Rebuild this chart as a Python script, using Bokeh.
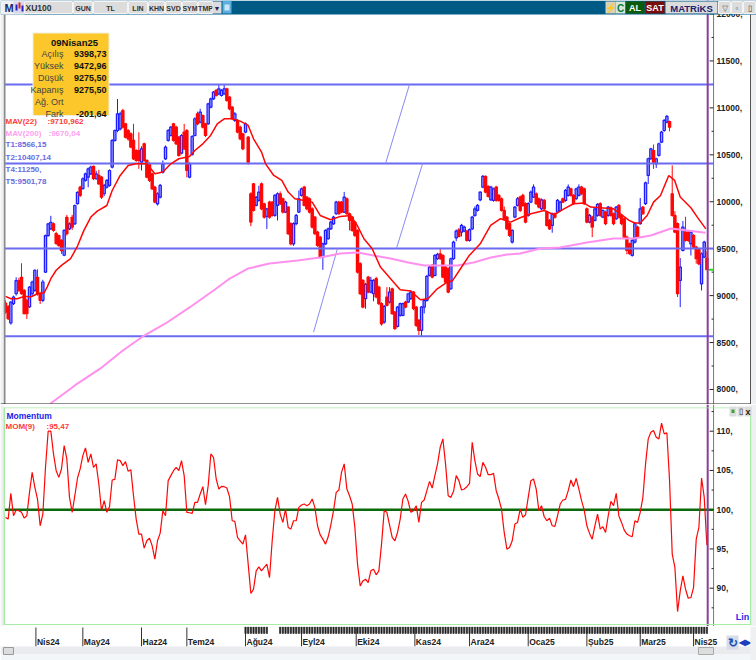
from bokeh.core.properties import value
from bokeh.embed import file_html
from bokeh.layouts import column
from bokeh.models import BoxAnnotation, ColumnDataSource, Label, Range1d
from bokeh.plotting import figure
from bokeh.resources import INLINE

# ---------------------------------------------------------------- data
opens = [8920,8880,8708,8915,9020,9160,9195,9055,8950,8880,
 9020,9055,9195,9020,8950,9250,9640,9710,9765,9660,
 9640,9590,9430,9835,9710,9835,9765,9980,10155,10140,
 10227,10262,10298,10376,10245,10280,10262,10085,10155,10174,
 10369,10653,10759,10777,10972,10830,10759,10724,10653,10546,
 10546,10422,10617,10440,10404,10298,10155,9978,10049,10315,
 10457,10653,10706,10830,10795,10688,10518,10742,10759,10262,
 10504,10706,10937,10848,10919,10830,10830,11008,11097,11186,
 11150,11132,11150,11203,11114,11008,10866,10866,10795,10724,
 10742,10688,10085,10191,9961,10014,10191,9978,9844,9996,
 9996,9854,9961,10085,10032,9890,9943,9766,9552,9766,
 9890,10067,10156,10049,10032,9925,9836,9677,9623,9410,
 9552,9606,9712,9765,9872,9996,9996,9890,10032,9872,
 9837,9783,9695,9340,9162,8967,9197,9038,9020,9180,
 9091,8914,8718,8985,8931,9073,8825,8672,8789,8789,
 8931,8931,8967,9038,8878,8736,8630,8878,8949,9215,
 9322,9215,9393,9446,9428,9304,9286,9073,9393,9616,
 9700,9677,9687,9687,9588,9712,9854,9908,10021,10156,
 10270,10163,10021,10014,10156,10067,10032,9908,9837,9766,
 9570,9837,9961,10050,10067,9979,9854,9996,10050,10085,
 10032,9925,10014,9890,9801,9748,9872,9890,9907,10032,
 10014,10067,10138,10067,10032,10067,10156,10138,9925,9783,
 9836,9801,9854,9979,9836,9890,9854,9936,9872,9819,
 9961,9854,9819,9623,9552,9428,9570,9730,9766,9943,
 9979,10280,10458,10546,10404,10493,10635,10759,10848,10855,
 10085,9854,9766,9162,9481,9677,9677,9552,9641,9517,
 9499,9126,9411,9398.73]
highs = [8950,8900,8940,9000,9195,9190,9345,9070,8970,9100,
 9160,9280,9280,9040,9170,9650,9775,9850,9780,9680,
 9650,9600,9705,9860,9780,9860,9970,10110,10170,10260,
 10310,10365,10385,10385,10330,10340,10275,10190,10240,10345,
 10665,10770,11095,10960,10990,10840,10775,10740,10830,10560,
 10740,10590,10630,10450,10420,10310,10170,10100,10190,10440,
 10600,10775,10805,10840,10810,10700,10720,10830,10775,10420,
 10710,10900,10960,10990,10930,10840,11055,11110,11180,11200,
 11250,11200,11250,11215,11125,11020,10955,10880,10810,10735,
 10845,10700,10100,10200,10060,10170,10205,9990,9935,10010,
 10005,10080,10100,10110,10045,10010,9955,9780,9780,9870,
 10120,10150,10170,10060,10045,9940,9850,9690,9635,9565,
 9705,9725,9795,9850,10010,10010,10008,10105,10045,9885,
 9850,9795,9705,9355,9175,9135,9210,9200,9175,9200,
 9105,8930,8900,9090,9090,9085,8838,8890,8925,8925,
 8945,9030,9060,9050,8890,8750,8890,8960,9220,9320,
 9335,9440,9455,9500,9440,9316,9300,9405,9585,9705,
 9720,9765,9745,9700,9715,9850,9950,9975,10110,10285,
 10280,10175,10170,10150,10170,10080,10045,9950,9850,9780,
 9705,9955,10050,10065,10085,9995,9995,10120,10185,10100,
 10045,10035,10030,9905,9815,9885,9885,10030,10010,10045,
 10135,10185,10150,10080,10150,10185,10170,10150,9940,9870,
 9850,9940,9985,9995,9920,9905,9955,9950,9885,9955,
 9975,9870,9835,9640,9565,9600,9780,9745,10040,9955,
 10215,10470,10575,10610,10470,10630,10755,10880,10925,10865,
 10387,9900,9780,9400,9795,9840,9690,9690,9655,9530,
 9510,9460,9585,9472.96]
lows = [8807,8740,8690,8900,9000,9040,9010,8800,8750,8870,
 9000,9040,9000,8910,8930,9240,9630,9700,9680,9540,
 9520,9445,9420,9640,9700,9700,9755,9970,10050,10130,
 10215,10155,10285,10230,10235,10180,10030,10060,10140,10160,
 10355,10640,10740,10760,10780,10675,10650,10570,10445,10425,
 10350,10333,10425,10250,10210,10125,9985,9960,10035,10300,
 10445,10640,10695,10640,10605,10480,10505,10550,10260,10250,
 10490,10695,10815,10835,10780,10690,10820,10995,11085,11120,
 11135,11120,11140,11065,10975,10870,10850,10730,10655,10550,
 10730,10395,9740,9895,9950,10000,9910,9820,9710,9820,
 9840,9840,9800,9965,9875,9880,9645,9535,9530,9750,
 9880,10055,9950,9910,9875,9715,9645,9520,9395,9275,
 9540,9595,9700,9755,9860,9860,9878,9880,9860,9695,
 9680,9625,9235,9005,8865,8860,9025,9025,8940,8970,
 8900,8680,8700,8885,8915,8795,8635,8660,8775,8780,
 8865,8920,8955,8845,8665,8580,8570,8810,8935,9205,
 9185,9205,9380,9380,9185,9130,9025,9060,9380,9580,
 9620,9630,9675,9575,9575,9700,9840,9895,10005,10145,
 10090,10045,10010,10000,10000,10000,9895,9805,9700,9625,
 9555,9825,9950,9890,9945,9770,9840,9985,10040,9965,
 9930,9910,9905,9735,9700,9670,9820,9875,9895,9985,
 10000,10055,10055,9965,10020,10055,10070,9965,9770,9770,
 9623,9790,9840,9840,9825,9750,9840,9840,9750,9805,
 9820,9750,9610,9440,9435,9415,9555,9610,9755,9860,
 9965,10190,10445,10350,10360,10480,10625,10745,10835,10750,
 9840,9665,8985,8878,9470,9575,9570,9428,9505,9340,
 9325,9055,9400,9275.5]
closes = [8825,8755,8930,8985,9160,9055,9020,8807,8807,9090,
 9145,9270,9020,8950,9145,9640,9765,9780,9695,9555,
 9535,9480,9695,9660,9765,9730,9960,10100,10067,10245,
 10298,10350,10370,10245,10298,10190,10049,10174,10227,10333,
 10653,10759,10937,10937,10795,10688,10670,10582,10457,10440,
 10440,10564,10440,10262,10227,10138,9996,10085,10174,10404,
 10582,10759,10795,10653,10617,10493,10706,10564,10333,10404,
 10695,10884,10830,10955,10795,10706,11043,11097,11168,11132,
 11203,11186,11203,11079,10990,10884,10937,10742,10670,10564,
 10830,10422,9783,9908,10049,10103,9925,9836,9925,9836,
 9854,10067,10085,9978,9890,9996,9659,9552,9766,9854,
 10032,10138,9961,9925,9890,9730,9659,9535,9410,9552,
 9694,9712,9783,9836,9996,9872,9890,10049,9872,9800,
 9695,9641,9251,9020,8878,9119,9038,9162,9162,8985,
 8914,8700,8885,8896,9038,8807,8647,8878,8914,8914,
 8878,9020,9038,8860,8683,8630,8878,8949,9205,9304,
 9197,9428,9439,9393,9197,9144,9038,9393,9570,9687,
 9631,9748,9730,9588,9702,9837,9925,9961,10103,10270,
 10103,10057,10156,10138,10014,10014,9908,9819,9712,9641,
 9694,9943,10032,9907,9961,9783,9979,10103,10156,9979,
 9943,10021,9925,9748,9712,9872,9836,10014,9996,9996,
 10121,10156,10067,9979,10138,10156,10085,9979,9783,9854,
 9730,9925,9971,9854,9907,9766,9943,9854,9766,9943,
 9836,9766,9623,9481,9446,9588,9766,9623,9925,9872,
 10202,10458,10564,10422,10458,10618,10742,10866,10909,10795,
 9854,9677,9020,9304,9730,9588,9588,9677,9517,9393,
 9339,9446,9570,9275.5]

mav22_bar = [0,2,4.4,7,9.4,12,14.4,15.6,17,19,21,24.4,27,29.4,32,34.4,38,40,43,46,49,53,56,59,62,
 65,69,71,74,76.9,79.4,82,85,88,91,93,96,97.5,100.6,103.6,106,108.5,111.9,115,118,121.9,
 125.6,129.4,131.9,134.4,137.5,140.6,144.4,148,151.9,155.6,158.4,161.9,165.6,167.5,170.6,173.9,
 178,181.9,185.6,189.4,193,197,202,205.6,209.4,213,217,219.4,223,228,230.6,233.8,236,238,240.6,
 243,245.6,248.7,250.9,253,257,259.4,262.6]
mav22_val = [8992,8967,8967,8992,8985,9020,9027,9091,9180,9270,9322,9393,9528,9695,9837,9900,9960,
 10120,10280,10387,10404,10404,10298,10316,10404,
 10458,10483,10546,10617,10706,10830,10884,10884,10859,10813,10671,10529,10404,10280,10227,10103,
 10032,10014,9996,9854,9808,
 9844,9854,9748,9606,9499,9304,9180,9063,9048,8956,8967,9073,9144,9155,9286,9428,9552,9748,9819,
 9783,9829,9872,9907,9861,9925,9979,9986,9943,9936,9925,9872,9801,9773,9773,9854,9996,10067,
 10280,10227,10050,9936,9836,9710.96]
mav200_bar = [16.9,26,35.6,44,52,60,69,78,83.6,91,99,109.5,118,125.6,132,138,144.4,151,157,163,169.5,
 175.5,182,188,193,200.6,208,218,228,235.5,242,249.5,255.7,262.5]
mav200_val = [7851,8043,8224,8415,8575,8703,8874,9055,9172,9289,9342,9374,9406,9449,9460,9428,9396,
 9353,9321,9321,9321,9353,9406,9438,9449,9502,9513,9566,9609,9609,9641,9715,9694,9670.04]
momentum = [99.02,98.80,102.08,99.23,99.95,99.87,99.66,98.93,99.23,102.21,
 104.76,102.85,101.36,97.95,99.44,105.40,110.0,110.0,107.10,104.97,
 104.12,105.19,108.17,106.46,101.57,99.66,101.78,104.04,105.19,106.89,
 107.87,106.04,107.10,105.40,105.83,103.27,99.87,101.15,99.66,100.38,
 103.78,103.87,106.34,106.25,105.61,106.12,104.89,105.10,101.78,98.80,
 96.89,96.89,95.10,96.04,96.38,95.40,93.70,96.04,97.02,99.87,
 99.23,103.70,104.34,104.97,105.40,104.97,106.25,104.34,99.66,99.61,
 99.53,100.93,100.93,102.0,102.93,100.63,103.06,107.10,106.68,103.91,
 102.63,102.97,102.93,102.76,101.66,98.59,98.51,96.46,96.04,95.61,
 96.80,93.06,89.32,89.87,92.21,92.72,92.21,92.64,93.06,91.36,
 96.04,99.87,101.57,99.44,98.38,100.08,97.74,97.53,98.59,98.59,
 100.29,100.59,100.72,100.51,100.72,101.36,100.29,97.95,96.80,96.25,
 95.61,96.55,98.08,99.87,102.21,102.51,104.76,105.83,102.63,101.78,
 100.72,97.74,93.06,90.29,90.93,91.15,90.72,92.21,92.42,91.70,
 92.21,95.61,99.87,99.66,98.08,96.46,96.04,97.10,98.80,101.36,
 102.0,101.06,99.66,99.87,100.51,98.38,100.93,101.23,102.42,103.61,
 102.76,104.34,105.83,107.95,109.02,105.83,101.78,101.57,102.34,104.34,
 103.70,102.51,102.63,102.93,103.36,108.59,106.25,104.55,104.21,106.04,
 105.40,104.46,104.46,104.63,102.42,101.36,100.08,97.10,94.97,95.19,
 96.04,98.17,98.38,100.08,99.02,99.36,101.57,103.70,103.91,102.63,
 99.87,100.51,99.10,98.59,98.93,97.95,97.87,99.23,100.72,101.23,
 101.32,102.42,103.78,102.93,104.0,102.63,101.15,99.95,97.95,96.98,
 96.25,97.95,99.44,97.53,97.83,97.10,99.23,101.06,100.51,102.08,
 99.19,98.38,97.40,96.89,96.68,96.55,98.59,98.38,99.66,101.57,
 105.83,109.02,109.87,110.08,109.23,109.02,111.02,109.66,109.78,103.70,
 94.34,92.64,87.02,89.66,91.57,89.87,88.72,88.81,90.08,96.25,
 97.74,104.04,101.57,95.47]

t_levels = [8566.15, 10407.14, 11250.0, 9501.78]
trend_bar0 = [115.5, 142.5, 146.6]
trend_bar1 = [124.5, 151.5, 156.4]
trend_val0 = [8610, 10407.14, 9501.78]
trend_val1 = [9501.78, 11250.0, 10407.14]
last_bar = 263.3
pane_start, pane_end = -0.375, 265.5       # bar positions of the plot's left edge and value axis

price_ticks = [8000, 8500, 9000, 9500, 10000, 10500, 11000, 11500, 12000]
price_minor = [7750, 8250, 8750, 9250, 9750, 10250, 10750, 11250, 11750]
mom_ticks = [90, 95, 100, 105, 110]
mom_minor = [87.5, 92.5, 97.5, 102.5, 107.5, 112.5]
month_pos = [11.4, 29, 51, 68, 90, 111, 131.5, 153.5, 174, 196, 218, 238, 258]
month_names = ["Nis24", "May24", "Haz24", "Tem24", "Ağu24", "Eyl24", "Eki24", "Kas24", "Ara24",
               "Oca25", "Şub25", "Mar25", "Nis25"]
session_bars = [b for b in range(90, 264) if b not in (99, 100, 101, 102)]

info_rows = [("Açılış", "9398,73"), ("Yüksek", "9472,96"), ("Düşük", "9275,50"),
             ("Kapanış", "9275,50"), ("Ağ. Ort", ""), ("Fark", "-201,64")]
toolbar_cells = [("XU100", 24, 72), ("GUN", 73, 92), ("TL", 93, 127), ("LIN", 128, 147), ("KHN", 148, 164),
                 ("SVD", 165, 181), ("SYM", 182, 197), ("TMP", 198, 212)]

# ---------------------------------------------------------------- layout
W, H = 756, 660
FONT = "Liberation Sans"
TOP1, TOP2, TOP3 = 404, 626, 660          # rows where the stacked figures end
x_range = Range1d(-1.875, 281.6)
BLUE, RED, SLATE, PINK = "#1c1cff", "#ff0606", "#6b6bf2", "#ff90ee"


def box(fig, x0, y0, x1, y1, fill, top=0, line=None):
    fig.add_layout(BoxAnnotation(left=x0, right=x1, top=y0 - top, bottom=y1 - top,
                                 left_units="canvas", right_units="canvas", top_units="canvas",
                                 bottom_units="canvas", fill_color=fill, fill_alpha=1,
                                 line_color=line, line_alpha=1 if line else 0, line_width=1))


def txt(fig, x, y, s, color="#222222", size=9, bold=False, align="left", top=0):
    fig.add_layout(Label(x=x, y=y - top, x_units="canvas", y_units="canvas", text=s,
                         text_color=color, text_font=FONT, text_font_size=f"{size}px",
                         text_font_style="bold" if bold else "normal", text_align=align,
                         text_baseline="middle"))


def pane(height, y_range):
    f = figure(width=W, height=height, x_range=x_range, y_range=y_range, output_backend="svg",
               toolbar_location=None, min_border=0, outline_line_color=None,
               x_axis_type=None, y_axis_type=None, background_fill_color="white",
               border_fill_color="white")
    f.grid.visible = False
    return f


def value_axis(f, ticks, minor):
    """Value scale drawn inside the full-canvas frame, so the chrome around it can share the canvas."""
    rng = f.y_range
    f.segment([pane_end], [rng.start], [pane_end], [rng.end], line_color="#777777", line_width=1)
    f.segment([pane_end - 1.5] * len(ticks), ticks, [pane_end] * len(ticks), ticks, line_color="#222222", line_width=1)
    f.segment([pane_end - 0.75] * len(minor), minor, [pane_end] * len(minor), minor, line_color="#222222", line_width=1)
    f.text([pane_end] * len(ticks), ticks, [f"{t}," for t in ticks], x_offset=3, text_font=value(FONT),
           text_font_size=value("8.5px"), text_font_style="bold", text_color="#222222",
           text_baseline="middle", text_align="left")


# ---------------------------------------------------------------- price pane
p1 = pane(TOP1, Range1d(7840, 12144))
value_axis(p1, price_ticks, price_minor)

bars = list(range(len(closes)))
up = [i for i in bars if closes[i] >= opens[i]]
dn = [i for i in bars if closes[i] < opens[i]]
for idx, col, fill in ((up, BLUE, "#9a9aff"), (dn, RED, RED)):
    src = ColumnDataSource(dict(x=idx, h=[highs[i] for i in idx], l=[lows[i] for i in idx],
                                o=[opens[i] for i in idx], c=[closes[i] for i in idx]))
    p1.segment("x", "h", "x", "l", source=src, line_color=col, line_width=1)
    p1.vbar(x="x", top="o", bottom="c", width=0.85, source=src, fill_color=fill, line_color=col, line_width=1.2)

n_t = len(t_levels)
p1.segment([pane_start] * n_t, t_levels, [pane_end] * n_t, t_levels, line_color=SLATE, line_width=2)
p1.segment(trend_bar0, trend_val0, trend_bar1, trend_val1, line_color="#8a8af5", line_width=1)
p1.line(mav200_bar, mav200_val, line_color=PINK, line_width=2)
p1.line(mav22_bar, mav22_val, line_color=RED, line_width=1.5)
p1.segment([last_bar + 0.4], [closes[-1]], [pane_end], [closes[-1]], line_color="#22dd22", line_width=2)
p1.segment([last_bar], [p1.y_range.start], [last_bar], [p1.y_range.end], line_color="#8c3f9a", line_width=2)

# frame edges and right margin
box(p1, 3, 14, 5, 404, "#8a8a8a")
box(p1, 0, 14, 3, 404, "#eef0f2")
box(p1, 0, 403, 756, 405, "#222222")
box(p1, 750, 14, 756, 404, "#eef0f2")
box(p1, 749.5, 14, 750.5, 404, "#555555")

# toolbar
box(p1, 0, 0, 756, 14, "#005a86")
box(p1, 0, 0, 24, 14, "#eef0f2")
box(p1, 13, 1, 24, 13, "#d8d8e8")
box(p1, 15, 4, 17, 10, "#2222cc"); box(p1, 18, 2, 20, 8, "#dd2222"); box(p1, 21, 5, 23, 11, "#2222cc")
txt(p1, 4, 7.5, "M", "#1a2a6a", 11, True)
for name, x0, x1 in toolbar_cells:
    box(p1, x0, 1, x1, 13, "#dcdcdc", line="#f4f4f4")
    if name == "XU100":
        txt(p1, x0 + 1, 7.5, name, "#333333", 8.5, True)
    else:
        txt(p1, (x0 + x1) / 2, 7.5, name, "#333333", 7, True, "center")
box(p1, 212, 1, 221, 13, "#dcdcdc"); txt(p1, 216.5, 7.5, "▼", "#222255", 7, False, "center")
box(p1, 222, 0, 231, 13, "#5aaee0"); box(p1, 224, 4, 229, 10, "#c8e6f6")
box(p1, 605, 1, 615, 13, "#d8d2b8"); txt(p1, 610, 7.5, "⚡", "#e08a00", 9, True, "center")
box(p1, 615, 1, 625, 13, "#d8e8d8"); txt(p1, 620, 7.5, "C", "#0c7a3a", 10, True, "center")
box(p1, 625, 1, 644, 13, "#0c5a0c"); txt(p1, 634.5, 7.5, "AL", "#ffffff", 9, True, "center")
box(p1, 645, 1, 664, 13, "#7a0c0c"); txt(p1, 654.5, 7.5, "SAT", "#ffffff", 9, True, "center")
box(p1, 665, 1, 717, 13, "#dcdcdc"); txt(p1, 691, 7.5, "MATRiKS", "#22226e", 9.5, True, "center")
for x0, x1 in ((718, 730), (731, 742), (743, 755)):
    box(p1, x0, 1, x1, 13, "#dcdcdc", line="#f4f4f4")
txt(p1, 724, 7.5, "▽", "#666666", 8, False, "center")
txt(p1, 736.5, 7.5, "▫", "#444444", 8, False, "center")
txt(p1, 749, 7.5, "▯", "#444444", 8, False, "center")

# info card
box(p1, 32, 32, 109, 115.5, "#efefdc")
box(p1, 33, 33, 108, 114.5, "#fbc72b")
txt(p1, 74, 41.5, "09Nisan25", "#111111", 9.5, True, "center")
for k, (name, val) in enumerate(info_rows):
    yy = 53 + 12 * k
    txt(p1, 63, yy, name, "#444444", 9, False, "right")
    if val:
        txt(p1, 106, yy, val, "#111111", 9, True, "right")

# legend
txt(p1, 5, 120.5, "MAV(22)", "#ff3a3a", 8, True)
txt(p1, 47, 120.5, ":9710,962", "#ff3a3a", 8, True)
txt(p1, 5, 132.5, "MAV(200)", "#ffa0f0", 8, True)
txt(p1, 48, 132.5, ":9670,04", "#ffa0f0", 8, True)
for yy, s in ((144, "T1:8566,15"), (156.5, "T2:10407,14"), (168.5, "T4:11250,"), (180.5, "T5:9501,78")):
    txt(p1, 5, yy, s, "#6a6ae0", 8, True)

# ---------------------------------------------------------------- momentum pane
p2 = pane(TOP2 - TOP1, Range1d(85.12, 113.4))
value_axis(p2, mom_ticks, mom_minor)
p2.segment([pane_start], [100], [pane_end], [100], line_color="#0a6a0a", line_width=2.5)
p2.line(bars, momentum, line_color=RED, line_width=1.2)
p2.segment([last_bar], [p2.y_range.start], [last_bar], [p2.y_range.end], line_color="#8c3f9a", line_width=2)
box(p2, 0, 404, 3, 626, "#eef0f2", TOP1)
box(p2, 750, 404, 756, 626, "#eef0f2", TOP1)
box(p2, 3, 407, 750.5, 407.8, "#a6eba6", TOP1)
box(p2, 3, 623.6, 750.5, 624.6, "#a6eba6", TOP1)
box(p2, 3, 407, 4.5, 624.5, "#a6eba6", TOP1)
box(p2, 749.5, 407, 750.7, 624.5, "#a6eba6", TOP1)
box(p2, 729, 406, 736, 416, "#dcdcdc", TOP1); box(p2, 737, 406, 743, 416, "#dcdcdc", TOP1); box(p2, 744, 406, 751, 416, "#dcdcdc", TOP1)
box(p2, 731, 409, 734, 412.5, "#3aa03a", TOP1)
txt(p2, 747.5, 411, "x", "#222222", 9, True, "center", TOP1)
txt(p2, 740, 411, "▯", "#222222", 8, False, "center", TOP1)
txt(p2, 6, 415, "Momentum", "#2222ee", 8.5, True, top=TOP1)
txt(p2, 5, 425.5, "MOM(9)", "#ff3a3a", 8, True, top=TOP1)
txt(p2, 46, 425.5, ":95,47", "#ff3a3a", 8, True, top=TOP1)
txt(p2, 742, 616, "Lin", "#2a2ae8", 9, True, "center", TOP1)

# ---------------------------------------------------------------- date strip
p3 = pane(TOP3 - TOP2, Range1d(-14, 20))
p3.segment(month_pos, [0] * len(month_pos), month_pos, [19] * len(month_pos), line_color="#333333", line_width=1)
p3.vbar(x=session_bars, bottom=[13] * len(session_bars), top=[19.5] * len(session_bars), width=0.5,
        fill_color="#222222", line_color="#222222", line_width=0.6)
p3.text(month_pos, [5] * len(month_pos), month_names, x_offset=1, text_font=value(FONT), text_font_size=value("8.5px"),
        text_font_style="bold", text_color="#222222", text_baseline="middle", text_align="left")
box(p3, 0, 646, 756, 654, "#e9ebee", TOP2)
box(p3, 0, 654, 756, 660, "#f3f6f9", TOP2)
box(p3, 3, 647, 13, 654, "#dddddd", TOP2, line="#999999")
box(p3, 698, 647, 713, 654, "#dddddd", TOP2, line="#aaaaaa")
box(p3, 726, 635, 738, 649, "#d8dce8", TOP2)
txt(p3, 732, 642, "↻", "#1a4fb0", 12, True, "center", TOP2)
txt(p3, 744.5, 642, "◀▶", "#1a3fc0", 8, True, "center", TOP2)
box(p3, 750, 626, 756, 660, "#eef0f2", TOP2)

page = column(p1, p2, p3, spacing=0)
open("out.html", "w").write(file_html(page, INLINE))
